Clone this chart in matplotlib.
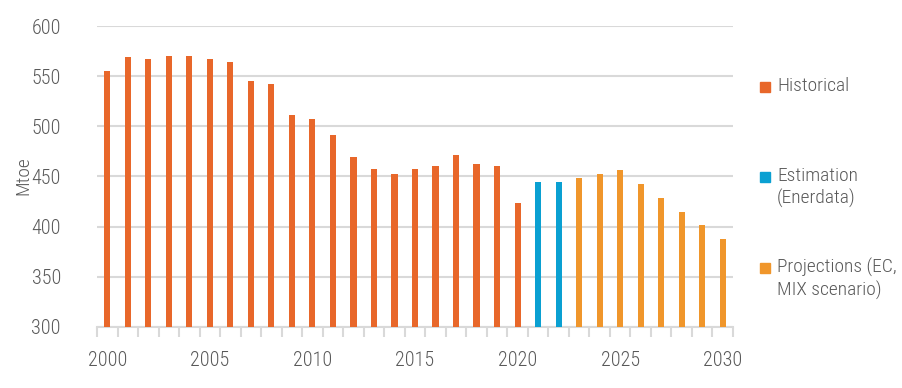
import matplotlib
matplotlib.use('Agg')
import matplotlib.pyplot as plt
import matplotlib.patches as mpatches
import numpy as np

# ── data ────────────────────────────────────────────────────────────────────
years = list(range(2000, 2031))
historical = [555, 569, 567, 570, 570, 567, 564, 545, 542, 511, 507,
              491, 469, 457, 452, 457, 460, 471, 462, 460, 424]
estimation = [445, 445]
projections = [449, 452, 456, 443, 429, 415, 402, 388]

series_labels = ['Historical', 'Estimation\n(Enerdata)', 'Projections (EC,\nMIX scenario)']
series_colors = ['#E8672A', '#0AA0D2', '#F0962B']

values = historical + estimation + projections
colors = ([series_colors[0]] * len(historical) + [series_colors[1]] * len(estimation)
          + [series_colors[2]] * len(projections))

plt.rcParams['font.family'] = ['Roboto Condensed', 'Open Sans Condensed',
                               'Liberation Sans Narrow', 'DejaVu Sans']
plt.rcParams['font.stretch'] = 'condensed'
plt.rcParams['font.weight'] = 300
text_col = '#595959'
grid_col = '#D9D9D9'

fig = plt.figure(figsize=(9.02, 3.88), dpi=100)
ax = fig.add_axes([97 / 902, 1 - 327 / 388, (733 - 97) / 902, (327 - 26) / 388])

x = np.arange(len(years))
ax.bar(x, [v - 300 for v in values], bottom=300, width=0.3, color=colors, zorder=3)

ax.set_xlim(-0.5, len(years) - 0.5)
ax.set_ylim(300, 600)
ax.set_yticks(range(300, 601, 50))
ax.tick_params(axis='y', length=0, labelsize=14.5, labelcolor=text_col, pad=26)
ax.grid(axis='y', color=grid_col, linewidth=1.5, zorder=0)

# category axis: labels every 5 years, ticks between categories
ax.set_xticks(x[::5])
ax.set_xticklabels([str(y) for y in years[::5]])
ax.set_xticks(np.arange(-0.5, len(years), 1), minor=True)
ax.tick_params(axis='x', which='major', length=0, labelsize=14.5, labelcolor=text_col, pad=17)
ax.tick_params(axis='x', which='minor', length=7, width=1.5, color=grid_col)

for s in ['left', 'right', 'top']:
    ax.spines[s].set_visible(False)
ax.spines['bottom'].set_color(grid_col)
ax.spines['bottom'].set_linewidth(1.5)

fig.text(23 / 902, 1 - 176 / 388, 'Mtoe', rotation=90, ha='center', va='center',
         fontsize=14, color=text_col)

# legend, drawn by hand so markers sit on the first text line
legend_y = [87, 177, 268]
for lab, col, ly in zip(series_labels, series_colors, legend_y):
    fig.patches.append(mpatches.Rectangle((760 / 902, 1 - (ly + 5) / 388), 10 / 902, 10 / 388,
                                          transform=fig.transFigure, color=col))
    fig.text(777 / 902, 1 - (ly - 10) / 388, lab, ha='left', va='top', fontsize=14,
             color=text_col, linespacing=1.25)

fig.savefig('out.png', dpi=100)
